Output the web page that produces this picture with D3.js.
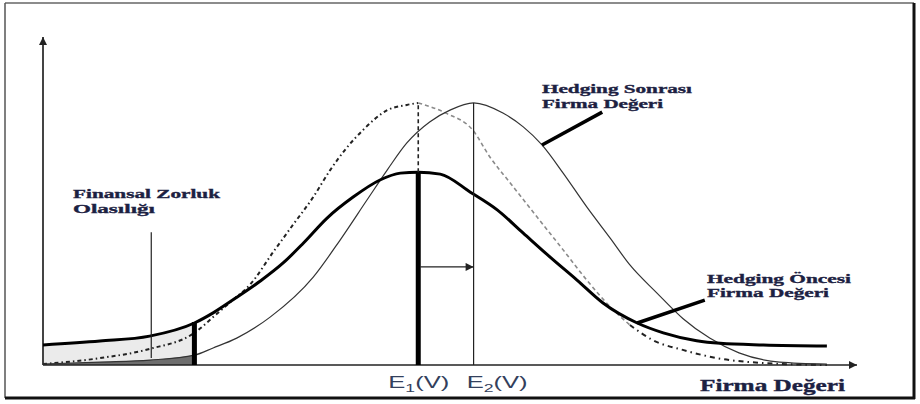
<!DOCTYPE html>
<html>
<head>
<meta charset="utf-8">
<script src="https://cdn.jsdelivr.net/npm/d3@7"></script>
<style>
body { margin: 0; background: #fff; }
svg { display: block; }
.lbl { font-family: "Liberation Serif", "Times New Roman", serif; font-weight: bold; fill: #1c2142; stroke: #1c2142; stroke-width: 0.35; }
.e-axis text { font-family: "Liberation Sans", Arial, sans-serif; fill: #33405c; }
</style>
</head>
<body>
<div id="chart"></div>
<script>
// firma değeri (x) / olasılık (y), both on a 0-100 scale
const beforeX = [0, 7.0, 13.1, 18.6, 20.9, 23.3, 26.7, 29.5, 32.0, 34.9, 38.1, 41.4, 43.9, 46.1, 48.8, 52.5, 55.8, 59.0, 62.3, 65.6, 68.8, 73.0, 76.2, 80.3, 83.2, 88.5, 96.3];
const beforeY = [6.1, 7.3, 8.8, 12.8, 15.9, 19.8, 25.6, 31.1, 37.2, 44.8, 51.2, 56.4, 58.5, 58.8, 58.2, 52.7, 47.3, 40.2, 32.9, 25.9, 18.9, 12.8, 9.8, 7.4, 6.6, 6.1, 5.8];

const afterX = [0, 7.0, 13.1, 18.6, 20.9, 23.8, 27.9, 33.2, 36.5, 39.8, 42.3, 44.7, 47.5, 50.0, 52.9, 56.5, 59.0, 61.3, 63.9, 66.8, 69.7, 72.1, 75.4, 78.6, 81.9, 85.5, 90.5, 96.3];
const afterY = [0.3, 0.9, 1.5, 3.0, 5.2, 8.2, 14.6, 26.8, 38.1, 50.3, 59.5, 67.7, 74.1, 77.7, 79.9, 76.8, 72.6, 67.1, 58.5, 48.2, 38.6, 30.5, 22.0, 14.2, 8.2, 3.7, 0.9, 0.3];

const normalX = [0, 7.0, 13.1, 18.6, 20.9, 23.3, 25.4, 28.3, 30.7, 33.2, 35.3, 37.3, 39.3, 42.3, 44.7, 46.1, 49.5, 52.8, 54.9, 57.4, 60.7, 63.9, 66.8, 69.7, 72.1, 74.9, 78.6, 82.8, 88.5, 96.3];
const normalY = [0.3, 2.1, 4.9, 9.8, 14.6, 19.8, 24.4, 34.5, 42.7, 51.2, 59.5, 66.2, 71.6, 77.7, 79.3, 79.9, 76.8, 71.6, 63.4, 55.5, 45.1, 35.1, 25.9, 17.7, 12.2, 7.6, 4.6, 2.1, 0.6, 0];

const E1 = 46.1, E2 = 52.9, distressCut = 18.6, grayUntil = 72.1;
const shiftLevel = 29.9;
const tickValues = [E1, E2];
const tickLabels = ["E1(V)", "E2(V)"];

// leader lines, in data units: [x1, y1, x2, y2]
const distressPointer = [13.3, 40.5, 13.3, 2.1];
const afterPointer = [68.7, 77.1, 61.3, 67.1];
const beforePointer = [81.3, 19.8, 73.0, 12.8];

let svgWidth = 920, svgHeight = 404;

let x = d3.scaleLinear().domain([0, 100]).range([43, 857]);
let y = d3.scaleLinear().domain([0, 100]).range([365, 37]);

function pairs(xs, ys) {
    return xs.map(function(d, i) { return [d, ys[i]]; });
}
let before = pairs(beforeX, beforeY),
    after = pairs(afterX, afterY),
    normal = pairs(normalX, normalY);

let svg = d3.select("#chart").append("svg")
    .attr("width", svgWidth)
    .attr("height", svgHeight);

let defs = svg.append("defs");
defs.append("marker")
    .attr("id", "head")
    .attr("viewBox", "0 0 10 10")
    .attr("refX", 10).attr("refY", 5)
    .attr("markerWidth", 9).attr("markerHeight", 8)
    .attr("markerUnits", "userSpaceOnUse")
    .attr("orient", "auto")
    .append("path")
    .attr("d", "M0,0L10,5L0,10Z")
    .attr("fill", "#222");

// frame
svg.append("line").attr("x1", 5).attr("y1", 3).attr("x2", 914).attr("y2", 3).attr("stroke", "#666").attr("stroke-width", 1.5);
svg.append("line").attr("x1", 5).attr("y1", 3).attr("x2", 5).attr("y2", 398).attr("stroke", "#555").attr("stroke-width", 1.5);
svg.append("line").attr("x1", 914).attr("y1", 3).attr("x2", 914).attr("y2", 399).attr("stroke", "#111").attr("stroke-width", 3);
svg.append("line").attr("x1", 5).attr("y1", 398).attr("x2", 915).attr("y2", 398).attr("stroke", "#111").attr("stroke-width", 3);

let line = d3.line()
    .x(function(d) { return x(d[0]); })
    .y(function(d) { return y(d[1]); })
    .curve(d3.curveMonotoneX);

let area = d3.area()
    .x(function(d) { return x(d[0]); })
    .y0(y(0))
    .y1(function(d) { return y(d[1]); })
    .curve(d3.curveMonotoneX);

// financial distress region
svg.append("path")
    .datum(before.filter(function(d) { return d[0] <= distressCut; }))
    .attr("d", area)
    .attr("fill", "#ebebeb");
svg.append("path")
    .datum(after.filter(function(d) { return d[0] <= distressCut; }))
    .attr("d", area)
    .attr("fill", "#6e6e6e");

// axes
svg.append("line")
    .attr("x1", x(0)).attr("y1", y(0))
    .attr("x2", x(0)).attr("y2", y(100))
    .attr("stroke", "#444").attr("stroke-width", 2)
    .attr("marker-end", "url(#head)");
svg.append("line")
    .attr("x1", x(0)).attr("y1", y(0))
    .attr("x2", x(100)).attr("y2", y(0))
    .attr("stroke", "#222").attr("stroke-width", 1.5)
    .attr("marker-end", "url(#head)");

// narrow normal curve (dotted)
svg.append("path")
    .datum(normal.filter(function(d) { return d[0] <= E1; }))
    .attr("d", line)
    .attr("fill", "none")
    .attr("stroke", "#222").attr("stroke-width", 2)
    .attr("stroke-dasharray", "4,3,1.5,3");
svg.append("path")
    .datum(normal.filter(function(d) { return d[0] >= E1 && d[0] <= grayUntil; }))
    .attr("d", line)
    .attr("fill", "none")
    .attr("stroke", "#8a8a8a").attr("stroke-width", 1.6)
    .attr("stroke-dasharray", "4,3");
svg.append("path")
    .datum(normal.filter(function(d) { return d[0] >= grayUntil; }))
    .attr("d", line)
    .attr("fill", "none")
    .attr("stroke", "#222").attr("stroke-width", 2)
    .attr("stroke-dasharray", "5,4,1.5,4");

// hedging sonrası (thin)
svg.append("path")
    .datum(after)
    .attr("d", line)
    .attr("fill", "none")
    .attr("stroke", "#333").attr("stroke-width", 1.2);

// hedging öncesi (thick)
svg.append("path")
    .datum(before)
    .attr("d", line)
    .attr("fill", "none")
    .attr("stroke", "#000").attr("stroke-width", 3);

// distress cut bar
let cutTop = beforeY[beforeX.indexOf(distressCut)];
svg.append("line")
    .attr("x1", x(distressCut)).attr("x2", x(distressCut))
    .attr("y1", y(0)).attr("y2", y(cutTop) - 1)
    .attr("stroke", "#000").attr("stroke-width", 5);

// expected values
let peakBefore = d3.max(beforeY), peakNormal = d3.max(normalY), peakAfter = d3.max(afterY);
svg.append("line")
    .attr("x1", x(E1)).attr("x2", x(E1))
    .attr("y1", y(0)).attr("y2", y(peakBefore))
    .attr("stroke", "#000").attr("stroke-width", 5);
svg.append("line")
    .attr("x1", x(E1)).attr("x2", x(E1))
    .attr("y1", y(peakBefore)).attr("y2", y(peakNormal))
    .attr("stroke", "#222").attr("stroke-width", 1.6)
    .attr("stroke-dasharray", "4,3");
svg.append("line")
    .attr("x1", x(E2)).attr("x2", x(E2))
    .attr("y1", y(0)).attr("y2", y(peakAfter))
    .attr("stroke", "#222").attr("stroke-width", 1.2);
svg.append("line")
    .attr("x1", x(E1) + 2).attr("x2", x(E2))
    .attr("y1", y(shiftLevel)).attr("y2", y(shiftLevel))
    .attr("stroke", "#222").attr("stroke-width", 1.2)
    .attr("marker-end", "url(#head)");

// leader lines
svg.append("line")
    .attr("x1", x(distressPointer[0])).attr("y1", y(distressPointer[1]))
    .attr("x2", x(distressPointer[2])).attr("y2", y(distressPointer[3]))
    .attr("stroke", "#222").attr("stroke-width", 1.2);
[afterPointer, beforePointer].forEach(function(p) {
    svg.append("line")
        .attr("x1", x(p[0])).attr("y1", y(p[1]))
        .attr("x2", x(p[2])).attr("y2", y(p[3]))
        .attr("stroke", "#000").attr("stroke-width", 3.5);
});

// E1(V), E2(V) tick labels
let labelShift = [0, 23];
let xAxis = d3.axisBottom(x)
    .tickValues(tickValues)
    .tickSize(0)
    .tickFormat("");
let ax = svg.append("g")
    .attr("class", "e-axis")
    .attr("transform", "translate(0," + y(0) + ")")
    .call(xAxis)
    .call(g => g.select(".domain").remove());
ax.selectAll(".tick text").each(function(d, i) {
    let t = d3.select(this)
        .attr("y", 0).attr("dy", 0)
        .attr("font-size", 16)
        .attr("text-anchor", "middle")
        .attr("transform", "translate(" + labelShift[i] + ",23) scale(1.6,1)");
    let s = tickLabels[i];
    t.append("tspan").text(s.charAt(0));
    t.append("tspan").attr("font-size", 11).attr("dy", 4).text(s.charAt(1));
    t.append("tspan").attr("dy", -4).text(s.slice(2));
});

// text labels
function label(lines, px, base, widths, size) {
    lines.forEach(function(s, i) {
        svg.append("text")
            .attr("class", "lbl")
            .attr("x", px)
            .attr("y", base[i])
            .attr("font-size", size)
            .attr("textLength", widths[i])
            .attr("lengthAdjust", "spacingAndGlyphs")
            .text(s);
    });
}
label(["Finansal Zorluk", "Olasılığı"], 73, [198, 213], [147, 82], 13);
label(["Hedging Sonrası", "Firma Değeri"], 542, [93, 107.5], [150, 121], 13);
label(["Hedging Öncesi", "Firma Değeri"], 707, [282.5, 297], [144, 122], 13);
label(["Firma Değeri"], 700, [391], [145], 16);
</script>
</body>
</html>
